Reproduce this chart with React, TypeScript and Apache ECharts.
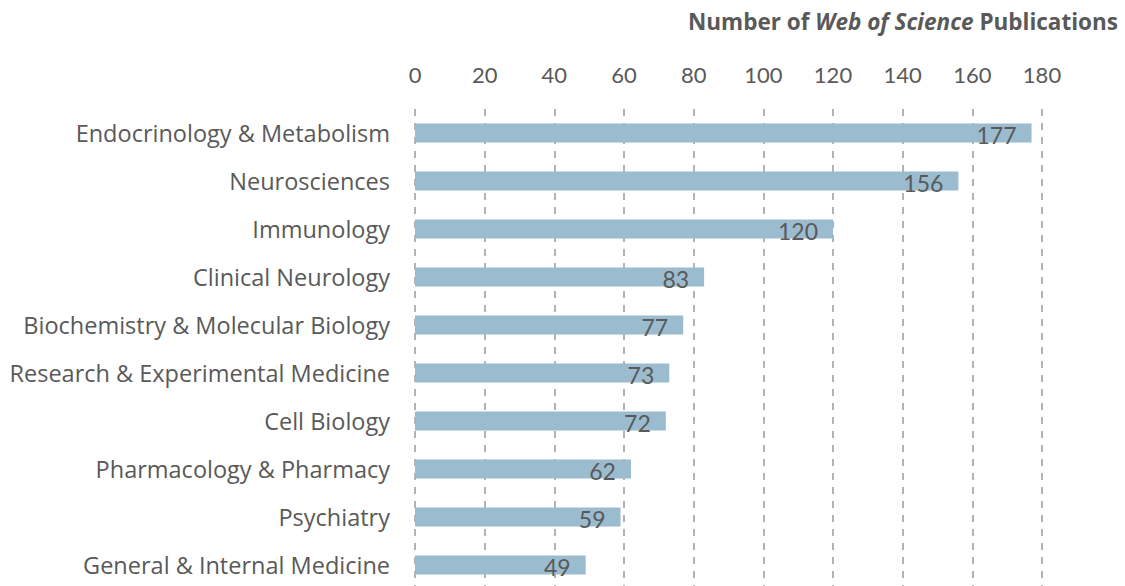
import React, { useEffect, useRef } from "react";
import * as echarts from "echarts";

const categories = [
  "Endocrinology & Metabolism",
  "Neurosciences",
  "Immunology",
  "Clinical Neurology",
  "Biochemistry & Molecular Biology",
  "Research & Experimental Medicine",
  "Cell Biology",
  "Pharmacology & Pharmacy",
  "Psychiatry",
  "General & Internal Medicine",
];
const publications = [177, 156, 120, 83, 77, 73, 72, 62, 59, 49];
const xTicks = { min: 0, max: 180, interval: 20 };

const FONT = "Lato, 'Open Sans', sans-serif";
const CAT_FONT = "'Open Sans', Lato, sans-serif";
const TEXT = "#595959";

export default function App() {
  const ref = useRef<HTMLDivElement>(null);
  useEffect(() => {
    if (!ref.current) return;
    const chart = echarts.init(ref.current, undefined, { renderer: "svg" });
    chart.setOption({
      animation: false,
      backgroundColor: "#ffffff",
      title: {
        text: "{b|Number of }{i|Web of Science}{b| Publications}",
        right: 2,
        top: 5,
        textStyle: {
          rich: {
            b: { fontFamily: CAT_FONT, fontWeight: "bold", fontSize: 22.5, color: TEXT },
            i: { fontFamily: CAT_FONT, fontWeight: "bold", fontStyle: "italic", fontSize: 22.5, color: TEXT },
          },
        },
      },
      grid: { left: 415, right: 83, top: 109, height: 480 },
      xAxis: {
        type: "value",
        position: "top",
        min: xTicks.min,
        max: xTicks.max,
        interval: xTicks.interval,
        axisLine: { show: false },
        axisTick: { show: false },
        axisLabel: { color: TEXT, fontFamily: FONT, fontSize: 22, margin: 24 },
        splitLine: {
          show: true,
          lineStyle: { color: "#9a9a9a", width: 1.5, type: [7, 7] },
        },
      },
      yAxis: {
        type: "category",
        inverse: true,
        data: categories,
        axisLine: { show: false },
        axisTick: { show: false },
        axisLabel: { color: TEXT, fontFamily: CAT_FONT, fontSize: 23.5, margin: 25 },
      },
      series: [
        {
          type: "bar",
          data: publications,
          barWidth: 19,
          itemStyle: { color: "#9bbccf" },
          label: {
            show: true,
            position: "insideRight",
            distance: 15,
            offset: [0, 2],
            color: TEXT,
            fontFamily: FONT,
            fontSize: 23,
          },
        },
      ],
    });
    return () => chart.dispose();
  }, []);
  return (
    <div
      ref={ref}
      style={{ position: "fixed", left: 0, top: 0, width: 1125, height: 600 }}
    />
  );
}
